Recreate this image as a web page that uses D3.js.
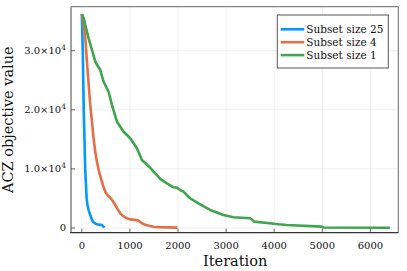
<!DOCTYPE html>
<html lang="en">
<head>
  <meta charset="UTF-8">
  <title>ACZ objective value vs iteration</title>
  <script src="https://d3js.org/d3.v7.min.js"></script>
  <style>
    body { margin: 0; background: #fff; }
    text { font-family: "DejaVu Serif", serif; fill: #111; }
    .tick-label { font-size: 10px; }
    .axis-title { font-size: 14.5px; }
    .legend-label { font-size: 10.5px; }
  </style>
</head>
<body>
  <script>
    // Subset size 25
    const iterS25 = [0, 20, 40, 70, 100, 118, 145, 176, 205, 232, 270, 315, 360, 419, 445, 473];
    const valS25 = [36200, 30000, 20000, 10000, 5000, 3900, 2900, 2200, 1500, 1070, 800, 620, 560, 510, 250, 60];

    // Subset size 4
    const iterS4 = [0, 40, 73, 121, 176, 245, 280, 315, 350, 398, 440, 488, 540, 592, 640, 695, 750, 799, 860, 938, 1000, 1146, 1200, 1250, 1300, 1380, 1490, 1600, 1800, 1990];
    const valS4 = [36200, 34500, 32100, 26450, 20800, 15180, 12800, 11220, 9800, 8400, 7200, 6140, 5500, 5130, 4600, 3890, 3100, 2480, 2000, 1640, 1450, 1350, 1100, 795, 600, 420, 220, 150, 100, 60];

    // Subset size 1
    const iterS1 = [0, 40, 73, 141, 212, 280, 384, 453, 556, 627, 731, 868, 1007, 1146, 1250, 1422, 1490, 1561, 1630, 1769, 1906, 1976, 2045, 2113, 2252, 2425, 2460, 2668, 2944, 3151, 3498, 3540, 3581, 3913, 4086, 4260, 4986, 5020, 6404];
    const valS1 = [36200, 35500, 34350, 32100, 30120, 28140, 26730, 24750, 23060, 20810, 17990, 16290, 15180, 13490, 11510, 10200, 9530, 8970, 8300, 7560, 6890, 6820, 6430, 6140, 5030, 4180, 4000, 3050, 2200, 1810, 1640, 1400, 1070, 795, 620, 510, 220, 80, 50];

    const seriesNames = ["Subset size 25", "Subset size 4", "Subset size 1"];
    const seriesColors = ["#009AFA", "#E36F47", "#3EA44E"];

    const xTicks = [0, 1000, 2000, 3000, 4000, 5000, 6000];
    const yTicks = [0, 10000, 20000, 30000];

    const series = [
      { name: seriesNames[0], color: seriesColors[0], pts: iterS25.map((x, i) => [x, valS25[i]]) },
      { name: seriesNames[1], color: seriesColors[1], pts: iterS4.map((x, i) => [x, valS4[i]]) },
      { name: seriesNames[2], color: seriesColors[2], pts: iterS1.map((x, i) => [x, valS1[i]]) }
    ];

    const W = 407, H = 271;
    const plot = { left: 71, right: 398.3, top: 6.7, bottom: 232.7 };

    const svg = d3.select("body").append("svg")
      .attr("width", W).attr("height", H);

    const x = d3.scaleLinear().domain([-225, 6580]).range([plot.left, plot.right]);
    const y = d3.scaleLinear().domain([-800, 37450]).range([plot.bottom, plot.top]);

    // grid
    const grid = svg.append("g").attr("stroke", "#000").attr("stroke-opacity", 0.1).attr("stroke-width", 0.6);
    grid.selectAll("line.gx").data(xTicks).join("line")
      .attr("x1", d => x(d)).attr("x2", d => x(d))
      .attr("y1", plot.top).attr("y2", plot.bottom);
    grid.selectAll("line.gy").data(yTicks).join("line")
      .attr("y1", d => y(d)).attr("y2", d => y(d))
      .attr("x1", plot.left).attr("x2", plot.right);

    // lines
    const line = d3.line().x(d => x(d[0])).y(d => y(d[1]));
    svg.append("g").selectAll("path").data(series).join("path")
      .attr("fill", "none")
      .attr("stroke", d => d.color)
      .attr("stroke-width", 2.6)
      .attr("stroke-linejoin", "round")
      .attr("d", d => line(d.pts));

    // frame: top/right thin, left light gray thick, bottom dark
    const fr = svg.append("g");
    fr.append("line").attr("x1", plot.left).attr("x2", plot.right).attr("y1", plot.top).attr("y2", plot.top)
      .attr("stroke", "#555").attr("stroke-width", 0.9);
    fr.append("line").attr("x1", plot.right).attr("x2", plot.right).attr("y1", plot.top).attr("y2", plot.bottom)
      .attr("stroke", "#555").attr("stroke-width", 0.9);
    fr.append("line").attr("x1", plot.left).attr("x2", plot.left).attr("y1", plot.top).attr("y2", plot.bottom)
      .attr("stroke", "#8a8a8a").attr("stroke-width", 1.6);
    fr.append("line").attr("x1", plot.left - 0.8).attr("x2", plot.right).attr("y1", plot.bottom).attr("y2", plot.bottom)
      .attr("stroke", "#333").attr("stroke-width", 1.2);

    // ticks (inward)
    const tk = svg.append("g").attr("stroke", "#444").attr("stroke-width", 0.8);
    tk.selectAll("line.tx").data(xTicks).join("line")
      .attr("x1", d => x(d)).attr("x2", d => x(d))
      .attr("y1", plot.bottom).attr("y2", plot.bottom - 4);
    tk.selectAll("line.ty").data(yTicks).join("line")
      .attr("y1", d => y(d)).attr("y2", d => y(d))
      .attr("x1", plot.left).attr("x2", plot.left + 4);

    // tick labels
    svg.append("g").selectAll("text").data(xTicks).join("text")
      .attr("class", "tick-label")
      .attr("x", d => x(d)).attr("y", 249)
      .attr("text-anchor", "middle")
      .text(d => d);

    const yl = svg.append("g").selectAll("text").data(yTicks).join("text")
      .attr("class", "tick-label")
      .attr("x", plot.left - 5).attr("y", d => y(d) + 3.5)
      .attr("text-anchor", "end");
    yl.each(function (d) {
      const t = d3.select(this);
      if (d === 0) { t.text("0"); return; }
      const e = Math.floor(Math.log10(d));
      t.append("tspan").text((d / Math.pow(10, e)).toFixed(1) + "\u00d710");
      t.append("tspan").attr("dy", -4.5).attr("font-size", "7.5px").text(e);
    });

    // axis titles
    svg.append("text").attr("class", "axis-title")
      .attr("x", (plot.left + plot.right) / 2 + 0.5).attr("y", 266)
      .attr("text-anchor", "middle").text("Iteration");
    svg.append("text").attr("class", "axis-title")
      .attr("transform", `translate(13,${(plot.top + plot.bottom) / 2}) rotate(-90)`)
      .attr("text-anchor", "middle").text("ACZ objective value");

    // legend
    const lg = svg.append("g").attr("transform", "translate(277.3,15)");
    lg.append("rect").attr("width", 111).attr("height", 53)
      .attr("fill", "#fff").attr("stroke", "#555").attr("stroke-width", 1);
    const item = lg.selectAll("g").data(series).join("g")
      .attr("transform", (d, i) => `translate(0,${14.3 + i * 12.9})`);
    item.append("line").attr("x1", 3.4).attr("x2", 27)
      .attr("stroke", d => d.color).attr("stroke-width", 2.6);
    item.append("text").attr("class", "legend-label")
      .attr("x", 29).attr("y", 3.7).text(d => d.name);
  </script>
</body>
</html>
